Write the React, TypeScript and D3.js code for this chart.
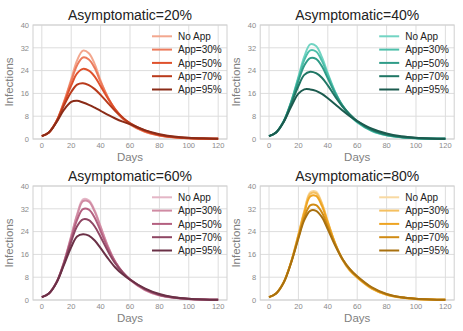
import React from 'react';
import * as d3 from 'd3';

// sample days (denser near the peak)
const days = [0, 5, 10, 15, 20, 24, 28, 32, 36, 40, 45, 50, 55, 60, 70, 80, 90, 100, 110, 120];

const seriesNames = ['No App', 'App=30%', 'App=50%', 'App=70%', 'App=95%'];

const asym20 = [
  [1, 2.4, 6.3, 13.0, 21.0, 27.6, 31.0, 30.1, 26.3, 20.5, 14.5, 10.0, 7.0, 5.0, 2.5, 1.2, 0.55, 0.25, 0.11, 0.05],
  [1, 2.4, 6.3, 12.8, 20.3, 25.9, 28.6, 27.9, 24.9, 20.0, 14.6, 10.3, 7.3, 5.2, 2.6, 1.25, 0.58, 0.26, 0.12, 0.05],
  [1, 2.4, 6.2, 12.4, 18.8, 23.0, 24.6, 24.0, 21.9, 18.5, 14.2, 10.4, 7.5, 5.4, 2.8, 1.35, 0.63, 0.29, 0.13, 0.06],
  [1, 2.4, 6.1, 11.7, 16.5, 19.1, 19.6, 18.9, 17.5, 15.5, 12.6, 9.8, 7.5, 5.6, 3.0, 1.5, 0.72, 0.33, 0.15, 0.07],
  [1, 2.4, 5.9, 10.2, 13.0, 13.4, 12.8, 12.0, 11.0, 9.9, 8.5, 7.2, 6.1, 5.2, 3.1, 1.7, 0.9, 0.45, 0.22, 0.1],
];

const asym40 = [
  [1, 2.4, 6.2, 13.0, 21.8, 28.9, 33.2, 32.6, 28.7, 23.0, 16.5, 11.5, 8.2, 5.8, 2.8, 1.3, 0.6, 0.27, 0.12, 0.05],
  [1, 2.4, 6.2, 12.9, 21.3, 27.7, 31.1, 30.7, 27.4, 22.4, 16.4, 11.7, 8.4, 6.0, 2.9, 1.35, 0.62, 0.28, 0.12, 0.05],
  [1, 2.4, 6.2, 12.7, 20.4, 25.8, 28.4, 28.1, 25.5, 21.3, 16.0, 11.7, 8.5, 6.1, 3.0, 1.4, 0.65, 0.3, 0.13, 0.06],
  [1, 2.4, 6.1, 12.2, 18.6, 22.5, 23.6, 23.1, 21.5, 18.8, 14.9, 11.4, 8.6, 6.3, 3.2, 1.55, 0.72, 0.33, 0.15, 0.07],
  [1, 2.4, 6.0, 11.3, 15.9, 17.4, 17.4, 16.9, 15.8, 14.3, 12.2, 10.0, 8.0, 6.3, 3.6, 1.9, 0.95, 0.45, 0.2, 0.09],
];

const asym60 = [
  [1, 2.4, 6.2, 13.2, 22.5, 30.1, 35.3, 35.0, 31.4, 25.8, 18.8, 13.3, 9.6, 7.0, 3.5, 1.6, 0.75, 0.34, 0.15, 0.06],
  [1, 2.4, 6.2, 13.1, 22.3, 29.7, 34.7, 34.5, 31.0, 25.6, 18.8, 13.4, 9.7, 7.1, 3.6, 1.65, 0.77, 0.35, 0.15, 0.07],
  [1, 2.4, 6.2, 13.0, 21.6, 28.1, 31.9, 31.7, 28.9, 24.2, 18.2, 13.3, 9.8, 7.2, 3.7, 1.75, 0.82, 0.37, 0.16, 0.07],
  [1, 2.4, 6.1, 12.7, 20.5, 25.9, 28.3, 28.0, 25.8, 22.1, 17.1, 12.8, 9.7, 7.3, 3.9, 1.85, 0.88, 0.4, 0.18, 0.08],
  [1, 2.4, 6.1, 12.2, 18.6, 22.3, 23.1, 22.6, 20.9, 18.2, 14.6, 11.4, 9.0, 7.1, 4.1, 2.1, 1.0, 0.47, 0.21, 0.09],
];

const asym80 = [
  [1, 2.4, 6.2, 13.3, 23.0, 31.3, 37.8, 38.0, 34.0, 27.5, 19.8, 14.0, 10.2, 7.8, 3.9, 1.8, 0.82, 0.37, 0.16, 0.07],
  [1, 2.4, 6.2, 13.3, 22.9, 31.0, 37.3, 37.5, 33.7, 27.4, 19.9, 14.2, 10.4, 7.9, 4.0, 1.85, 0.84, 0.38, 0.17, 0.07],
  [1, 2.4, 6.2, 13.2, 22.6, 30.5, 36.3, 36.5, 33.0, 27.1, 19.9, 14.3, 10.5, 8.0, 4.1, 1.9, 0.87, 0.39, 0.17, 0.07],
  [1, 2.4, 6.2, 13.1, 22.0, 29.0, 33.2, 33.3, 30.7, 25.8, 19.5, 14.4, 10.8, 8.2, 4.3, 2.0, 0.93, 0.42, 0.18, 0.08],
  [1, 2.4, 6.1, 13.0, 21.6, 28.0, 31.3, 31.3, 29.1, 24.8, 19.1, 14.3, 10.8, 8.3, 4.4, 2.1, 0.97, 0.44, 0.19, 0.08],
];

const reds = ['#f3a78e', '#ec7b5c', '#df512c', '#b93a1b', '#8a2b17'];
const teals = ['#72d4c3', '#4dbfaa', '#2f9c88', '#1f7664', '#1b5a4e'];
const mauves = ['#e4b6c6', '#d08ba3', '#b46080', '#8e4663', '#6a3046'];
const ambers = ['#f8d9a2', '#f5c060', '#eea422', '#d08b14', '#a8700f'];

const xTicks = [0, 20, 40, 60, 80, 100, 120];
const yTicks = [0, 8, 16, 24, 32, 40];

const panels = [
  { title: 'Asymptomatic=20%', data: asym20, colors: reds, left: 33, top: 25 },
  { title: 'Asymptomatic=40%', data: asym40, colors: teals, left: 260.2, top: 25 },
  { title: 'Asymptomatic=60%', data: asym60, colors: mauves, left: 33, top: 186 },
  { title: 'Asymptomatic=80%', data: asym80, colors: ambers, left: 260.2, top: 186 },
];

const font = 'Liberation Sans, Arial, Helvetica, sans-serif';
const W = 194;
const H = 114;

const Panel = ({ p }) => {
  const x = d3.scaleLinear().domain([-6, 126]).range([0, W]);
  const y = d3.scaleLinear().domain([0, 40]).range([H, 0]);
  const line = d3.line<number>()
    .x((_, i) => x(days[i]))
    .y(d => y(d))
    .curve(d3.curveCatmullRom.alpha(0.5));

  return (
    <g transform={`translate(${p.left},${p.top})`}>
      {/* grid */}
      {xTicks.map(t => (
        <line key={'gx' + t} x1={x(t)} x2={x(t)} y1={0} y2={H} stroke="#dddddd" strokeWidth={1} />
      ))}
      {yTicks.map(t => (
        <line key={'gy' + t} x1={0} x2={W} y1={y(t)} y2={y(t)} stroke="#dddddd" strokeWidth={1} />
      ))}
      <rect x={0} y={0} width={W} height={H} fill="none" stroke="#d0d0d0" strokeWidth={1} />

      {/* tick labels */}
      {xTicks.map(t => (
        <text key={'tx' + t} x={x(t)} y={H + 9} textAnchor="middle" fontSize={7.5} fill="#8a8a8a" fontFamily={font}>{t}</text>
      ))}
      {yTicks.map(t => (
        <text key={'ty' + t} x={-4} y={y(t) + 2.7} textAnchor="end" fontSize={7.5} fill="#8a8a8a" fontFamily={font}>{t}</text>
      ))}

      <text x={W / 2} y={-5} textAnchor="middle" fontSize={14} fill="#222" fontFamily={font}>{p.title}</text>
      <text x={W / 2} y={H + 21.5} textAnchor="middle" fontSize={11.5} fill="#808080" fontFamily={font}>Days</text>
      <text transform={`translate(${-20},${H / 2}) rotate(-90)`} textAnchor="middle" fontSize={11.5} fill="#808080" fontFamily={font}>Infections</text>

      {/* curves */}
      {p.data.map((s, i) => (
        <path key={'c' + i} d={line(s) || ''} fill="none" stroke={p.colors[i]} strokeWidth={2} />
      ))}

      {/* legend */}
      {seriesNames.map((n, i) => (
        <g key={'l' + i} transform={`translate(${W - 75},${11.3 + i * 13.3})`}>
          <line x1={0} x2={20} y1={0} y2={0} stroke={p.colors[i]} strokeWidth={2} />
          <text x={26} y={3.6} fontSize={10} fill="#222" fontFamily={font}>{n}</text>
        </g>
      ))}
    </g>
  );
};

export default function App() {
  return (
    <svg width={463} height={331} style={{ position: 'absolute', left: 0, top: 0, background: '#fff' }}>
      {panels.map(p => <Panel key={p.title} p={p} />)}
    </svg>
  );
}
